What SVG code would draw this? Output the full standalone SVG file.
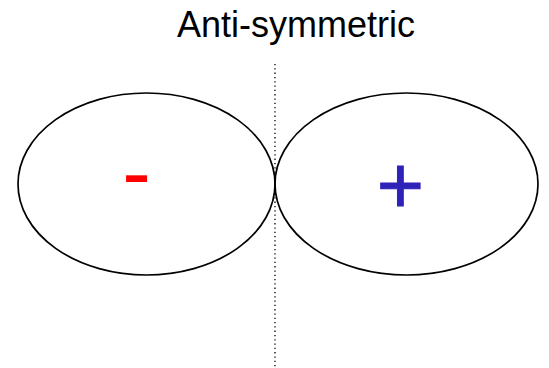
<svg xmlns="http://www.w3.org/2000/svg" width="549" height="368" viewBox="0 0 549 368">
<style>
.lobe{fill:none;stroke:#000;stroke-width:1.7}
.axis{stroke:#000;stroke-width:1.3;stroke-dasharray:1.3 3;fill:none}
.title{font-family:"Liberation Sans",Arial,sans-serif;font-size:36px;fill:#000;text-anchor:middle}
.sign{font-family:"Liberation Sans",Arial,sans-serif;text-anchor:middle}
</style>
<rect width="549" height="368" fill="#fff"/>
<text class="title" x="296" y="37">Anti-symmetric</text>
<g id="connectors">
<line class="axis" x1="275" y1="64" x2="275" y2="368"/>
</g>
<g id="lobe-left">
<ellipse class="lobe" cx="146.5" cy="184" rx="128.5" ry="91"/>
<text class="sign" x="136.5" y="201" font-size="86" fill="#ff0000">-</text>
</g>
<g id="lobe-right">
<ellipse class="lobe" cx="406.5" cy="184" rx="131.5" ry="91"/>
<text class="sign" x="400.5" y="213" font-size="81" fill="#2e22b8" stroke="#2e22b8" stroke-width="1">+</text>
</g>
</svg>
